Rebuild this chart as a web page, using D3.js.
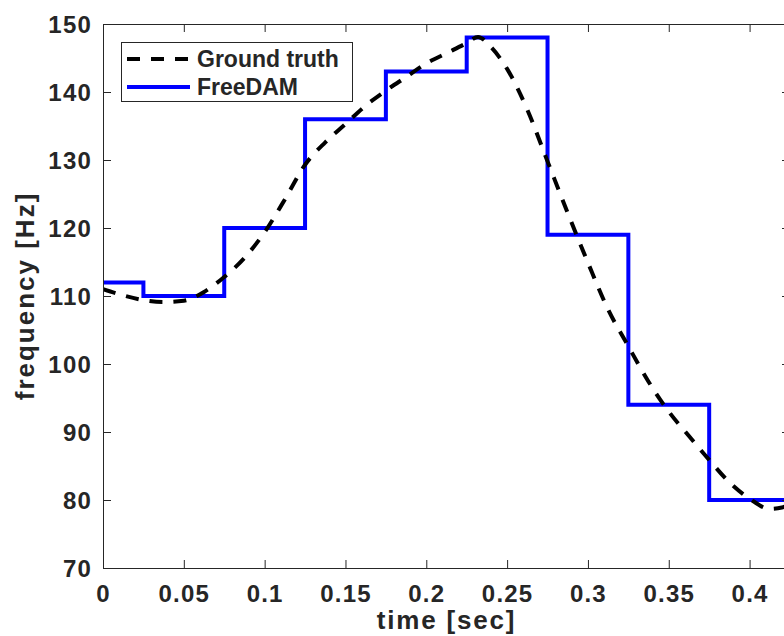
<!DOCTYPE html>
<html>
<head>
<meta charset="utf-8">
<script src="https://cdn.jsdelivr.net/npm/d3@7"></script>
<style>
  html, body { margin: 0; padding: 0; background: #fff; }
  svg { display: block; }
  text { font-family: "Liberation Sans", Arial, sans-serif; font-weight: bold; fill: #262626; }
</style>
</head>
<body>
<script>
// Ground truth frequency track (seconds, Hz)
const truthTime = [0, 0.0125, 0.025, 0.0375, 0.05, 0.0625, 0.075, 0.0875, 0.1, 0.1125,
  0.125, 0.1375, 0.15, 0.1625, 0.175, 0.1875, 0.2, 0.2125, 0.225, 0.232, 0.24, 0.25,
  0.2625, 0.275, 0.2875, 0.3, 0.3125, 0.325, 0.3375, 0.35, 0.3625, 0.375, 0.3875,
  0.4, 0.4125, 0.42, 0.425];
const truthFreq = [111.0, 110.1, 109.4, 109.1, 109.3, 110.6, 112.8, 115.6, 119.4, 124.2,
  129.3, 132.6, 135.3, 138.0, 140.2, 142.2, 144.2, 145.7, 147.2, 148.1, 146.6, 143.4,
  137.4, 129.8, 122.2, 114.9, 108.0, 102.6, 97.4, 93.0, 89.4, 85.9, 82.6, 80.2, 78.7,
  78.9, 79.3];

// FreeDAM piecewise-constant estimate: segment edges and value per segment
const stepEdges = [0, 0.025, 0.075, 0.125, 0.175, 0.225, 0.275, 0.325, 0.375, 0.425];
const freeDamFreq = [112, 110, 120, 136, 143, 148, 119, 94, 80];

const xTicks = [0, 0.05, 0.1, 0.15, 0.2, 0.25, 0.3, 0.35, 0.4];
const xTickLabels = ["0", "0.05", "0.1", "0.15", "0.2", "0.25", "0.3", "0.35", "0.4"];
const yTicks = [70, 80, 90, 100, 110, 120, 130, 140, 150];
const legendLabels = ["Ground truth", "FreeDAM"];

const W = 784, H = 636;
const plot = { left: 103, top: 24, right: 790, bottom: 568 };

const svg = d3.select("body").append("svg").attr("width", W).attr("height", H);

const x = d3.scaleLinear().domain([0, 0.425]).range([plot.left, plot.right]);
const y = d3.scaleLinear().domain([70, 150]).range([plot.bottom, plot.top]);

const axisColor = "#262626";
const tickLen = 8;

// clip region for data lines
svg.append("clipPath").attr("id", "plotClip")
  .append("rect")
  .attr("x", plot.left).attr("y", plot.top)
  .attr("width", plot.right - plot.left).attr("height", plot.bottom - plot.top);

// FreeDAM step line
const stepPts = freeDamFreq.map((v, i) => [stepEdges[i], v]);
stepPts.push([stepEdges[stepEdges.length - 1], freeDamFreq[freeDamFreq.length - 1]]);
const stepLine = d3.line().x(d => x(d[0])).y(d => y(d[1])).curve(d3.curveStepAfter);

const dataG = svg.append("g").attr("clip-path", "url(#plotClip)");
dataG.append("path")
  .attr("d", stepLine(stepPts))
  .attr("fill", "none")
  .attr("stroke", "#0000ff")
  .attr("stroke-width", 4)
  .attr("stroke-linejoin", "miter");

// Ground truth dashed curve
const truthLine = d3.line().x(d => x(d[0])).y(d => y(d[1])).curve(d3.curveMonotoneX);
dataG.append("path")
  .attr("d", truthLine(truthTime.map((t, i) => [t, truthFreq[i]])))
  .attr("fill", "none")
  .attr("stroke", "#000")
  .attr("stroke-width", 4)
  .attr("stroke-dasharray", "13,11");

// Axes: bottom/left with labels, top/right mirrored ticks only
const xAxisB = d3.axisBottom(x).tickValues(xTicks).tickSizeInner(-tickLen).tickSizeOuter(0)
  .tickFormat((d, i) => xTickLabels[i]).tickPadding(20);
const xAxisT = d3.axisTop(x).tickValues(xTicks).tickSizeInner(-tickLen).tickSizeOuter(0)
  .tickFormat("");
const yAxisL = d3.axisLeft(y).tickValues(yTicks).tickSizeInner(-tickLen).tickSizeOuter(0)
  .tickFormat(d3.format("d")).tickPadding(11);
const yAxisR = d3.axisRight(y).tickValues(yTicks).tickSizeInner(-tickLen).tickSizeOuter(0)
  .tickFormat("");

function styleAxis(g) {
  g.select(".domain").attr("stroke", axisColor).attr("stroke-width", 1);
  g.selectAll(".tick line").attr("stroke", axisColor).attr("stroke-width", 1);
  g.selectAll(".tick text")
    .attr("font-family", "Liberation Sans, Arial, sans-serif")
    .attr("font-weight", "bold")
    .attr("font-size", 24)
    .attr("letter-spacing", 1.2)
    .attr("fill", axisColor);
}

svg.append("g").attr("transform", `translate(0,${plot.bottom})`).call(xAxisB).call(styleAxis)
  .selectAll(".tick text").attr("dy", null).attr("y", 34);
svg.append("g").attr("transform", `translate(0,${plot.top})`).call(xAxisT).call(styleAxis);
svg.append("g").attr("transform", `translate(${plot.left},0)`).call(yAxisL).call(styleAxis)
  .selectAll(".tick text").attr("dy", "0.35em");
svg.append("g").attr("transform", `translate(${plot.right},0)`).call(yAxisR).call(styleAxis);

// Axis titles
svg.append("text")
  .attr("x", (plot.left + plot.right) / 2).attr("y", 629)
  .attr("text-anchor", "middle")
  .attr("font-size", 26).attr("letter-spacing", 1.8)
  .text("time [sec]");

svg.append("text")
  .attr("transform", `translate(34,${(plot.top + plot.bottom) / 2}) rotate(-90)`)
  .attr("text-anchor", "middle")
  .attr("font-size", 26).attr("letter-spacing", 2)
  .text("frequency [Hz]");

// Legend
const lg = svg.append("g");
lg.append("rect")
  .attr("x", 121.5).attr("y", 42.5).attr("width", 231).attr("height", 59)
  .attr("fill", "#fff").attr("stroke", axisColor).attr("stroke-width", 1);
const rowY = [59, 87];
lg.append("line").attr("x1", 127).attr("x2", 190).attr("y1", rowY[0]).attr("y2", rowY[0])
  .attr("stroke", "#000").attr("stroke-width", 4).attr("stroke-dasharray", "13,11");
lg.append("line").attr("x1", 127).attr("x2", 190).attr("y1", rowY[1]).attr("y2", rowY[1])
  .attr("stroke", "#0000ff").attr("stroke-width", 4);
legendLabels.forEach((t, i) => {
  lg.append("text")
    .attr("x", 197).attr("y", rowY[i]).attr("dy", "0.36em")
    .attr("font-size", 23).attr("fill", "#000")
    .text(t);
});
</script>
</body>
</html>
